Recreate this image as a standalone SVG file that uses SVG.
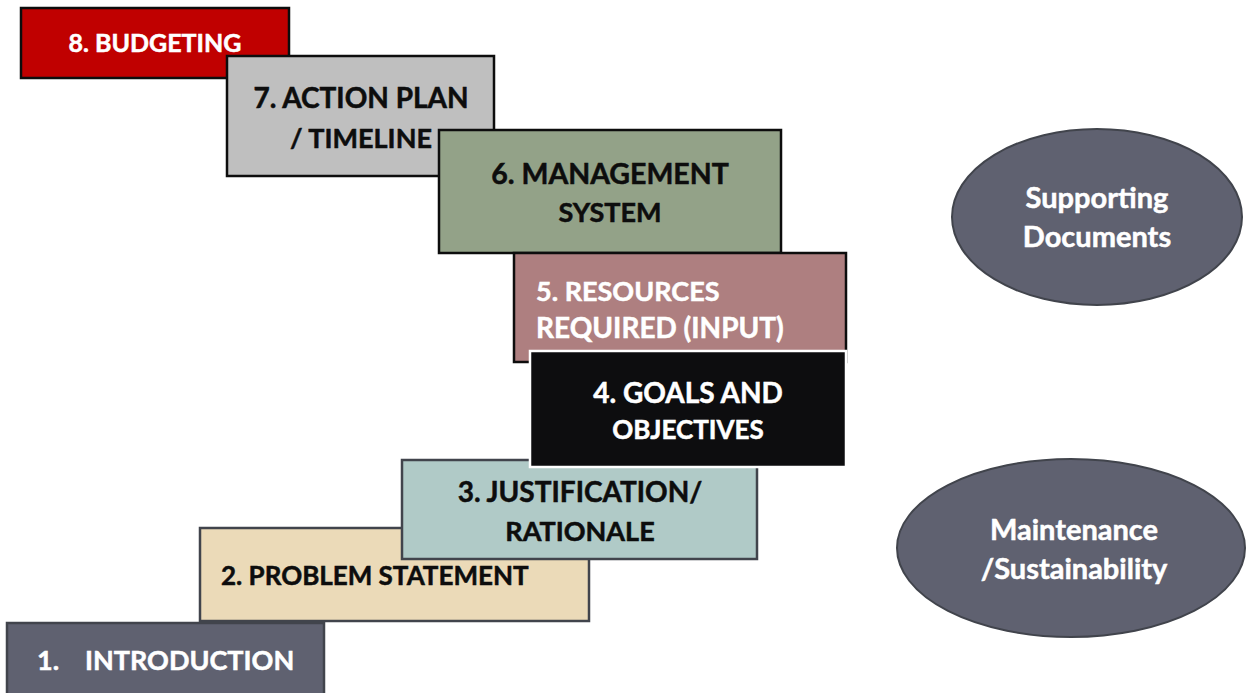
<svg xmlns="http://www.w3.org/2000/svg" width="1246" height="693" viewBox="0 0 1246 693">
<style>
text{font-family:Lato,"Open Sans","Liberation Sans",sans-serif;font-weight:bold;font-size:27px;stroke-width:0.5}
.c{text-anchor:middle}
.w{fill:#ffffff;stroke:#ffffff}
.k{fill:#0d0d0d;stroke:#0d0d0d}
.e{font-size:29px}
.bk{stroke:#0d0d0d;stroke-width:2.5}
.gr{stroke:#41444c;stroke-width:2.5}
</style>
<rect width="1246" height="693" fill="#ffffff"/>
<g id="n8"><rect class="bk" x="21" y="8" width="268" height="70" fill="#c00000"/><text class="c w" x="155" y="52" style="font-size:25px">8. BUDGETING</text></g>
<g id="n7"><rect class="bk" x="227" y="56" width="267" height="120" fill="#bfbfbf"/><text class="c k" x="361" y="108" style="font-size:28px">7. ACTION PLAN</text><text class="c k" x="361" y="148">/ TIMELINE</text></g>
<g id="n6"><rect class="bk" x="439" y="130" width="342" height="123" fill="#93a288"/><text class="c k" x="610" y="184" style="font-size:28.5px">6. MANAGEMENT</text><text class="c k" x="610" y="222">SYSTEM</text></g>
<g id="n5"><rect class="bk" x="514" y="253" width="332" height="109" fill="#ae7f80"/><text class="w" x="536" y="301">5. RESOURCES</text><text class="w" x="536" y="338" style="font-size:28px">REQUIRED (INPUT)</text></g>
<g id="n2"><rect class="gr" x="200" y="528" width="389" height="93" fill="#ebdab8"/><text class="k" x="221" y="585" style="font-size:26px">2. PROBLEM STATEMENT</text></g>
<g id="n3"><rect class="gr" x="402" y="460" width="355" height="99" fill="#b0cac7"/><text class="c k" x="580" y="502" style="font-size:28px">3. JUSTIFICATION/</text><text class="c k" x="580" y="541">RATIONALE</text></g>
<g id="n4"><rect x="530" y="351" width="316" height="116" fill="#0d0d0f" stroke="#ffffff" stroke-width="2.5"/><text class="c w" x="688" y="403" style="font-size:28px">4. GOALS AND</text><text class="c w" x="688" y="439" style="font-size:26px">OBJECTIVES</text></g>
<g id="n1"><rect class="gr" x="7" y="623" width="317" height="75" fill="#5f6170"/><text class="w" y="670"><tspan x="37">1.</tspan><tspan x="85">INTRODUCTION</tspan></text></g>
<g id="supporting"><ellipse cx="1097" cy="217" rx="145" ry="88" fill="#5f6170" stroke="#41444c" stroke-width="2"/><text class="c w e" x="1097" y="208">Supporting</text><text class="c w e" x="1097" y="247">Documents</text></g>
<g id="maintenance"><ellipse cx="1071" cy="548" rx="174" ry="89" fill="#5f6170" stroke="#41444c" stroke-width="2"/><text class="c w e" x="1074" y="540">Maintenance</text><text class="c w e" x="1074" y="579">/Sustainability</text></g>
<g id="connectors"></g>
</svg>
